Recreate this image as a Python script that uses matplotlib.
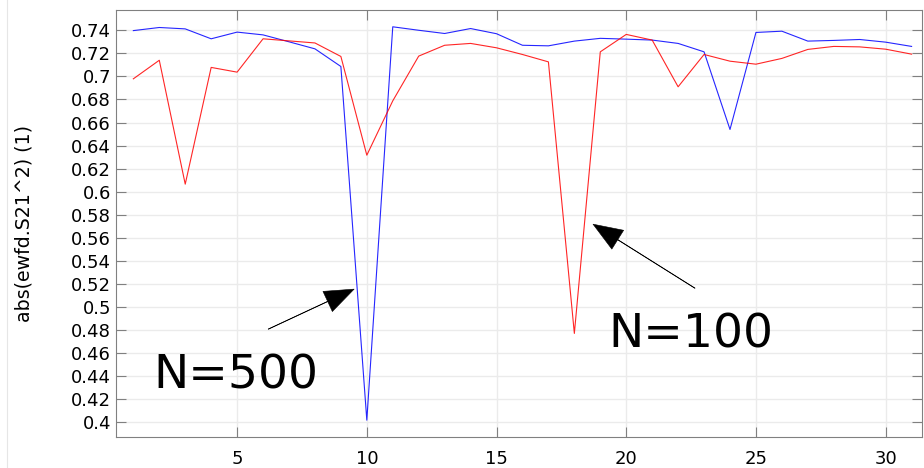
import numpy as np
import matplotlib
matplotlib.use("Agg")
import matplotlib.pyplot as plt
from matplotlib.lines import Line2D
from matplotlib.ticker import FuncFormatter, MultipleLocator

# parameter index
x = np.arange(1, 32)

# N=500 (blue)
s21_n500 = [0.7397, 0.7424, 0.7412, 0.7326, 0.7384, 0.7360, 0.7300, 0.7239, 0.7086, 0.4020,
            0.7430, 0.7400, 0.7372, 0.7415, 0.7370, 0.7270, 0.7265, 0.7306, 0.7330, 0.7323,
            0.7315, 0.7286, 0.7213, 0.6540, 0.7381, 0.7392, 0.7306, 0.7312, 0.7320, 0.7297,
            0.7260]

# N=100 (red)
s21_n100 = [0.6979, 0.7140, 0.6066, 0.7078, 0.7037, 0.7326, 0.7308, 0.7290, 0.7173, 0.6317,
            0.6788, 0.7176, 0.7270, 0.7286, 0.7248, 0.7190, 0.7126, 0.4772, 0.7213, 0.7364,
            0.7315, 0.6910, 0.7190, 0.7132, 0.7106, 0.7156, 0.7234, 0.7260, 0.7256, 0.7236,
            0.7193]

ylabel = "abs(ewfd.S21^2) (1)"

fig = plt.figure(figsize=(9.24, 4.68), dpi=100)
ax = fig.add_axes([0.1255, 0.0652, 0.8723, 0.9145])

# faint panel border on the far left
fig.add_artist(Line2D([0.0078, 0.0078], [0, 1], color="#e6e6e6", lw=0.8))

ax.plot(x, s21_n500, color="#0000ff", lw=0.8, alpha=0.85)
ax.plot(x, s21_n100, color="#ff0000", lw=0.8, alpha=0.85)

ax.set_xlim(0.33, 31.4)
ax.set_ylim(0.387, 0.758)
ax.xaxis.set_major_locator(MultipleLocator(5))
ax.yaxis.set_major_locator(MultipleLocator(0.02))
ax.yaxis.set_major_formatter(FuncFormatter(lambda v, p: "%g" % round(v, 2)))

ax.grid(True, color="#ebebeb", lw=1)
ax.set_axisbelow(True)
for sp in ax.spines.values():
    sp.set_color("#808080")
ax.tick_params(axis="both", direction="in", colors="#808080", labelcolor="black",
               labelsize=13, length=7, top=True, right=True)
ax.tick_params(axis="x", pad=9)
ax.set_ylabel(ylabel, fontsize=13.7, labelpad=27)

arrow = dict(facecolor="black", edgecolor="black", width=0.3, lw=0.4,
             headwidth=16, headlength=21)
ax.annotate("", xy=(9.51, 0.5156), xytext=(6.2, 0.4809), arrowprops=arrow)
ax.annotate("", xy=(18.72, 0.5719), xytext=(22.65, 0.5164), arrowprops=arrow)
ax.text(1.77, 0.4297, "N=500", fontsize=34, va="baseline", ha="left")
ax.text(19.3, 0.4653, "N=100", fontsize=34, va="baseline", ha="left")

fig.savefig("out.png", dpi=100)
